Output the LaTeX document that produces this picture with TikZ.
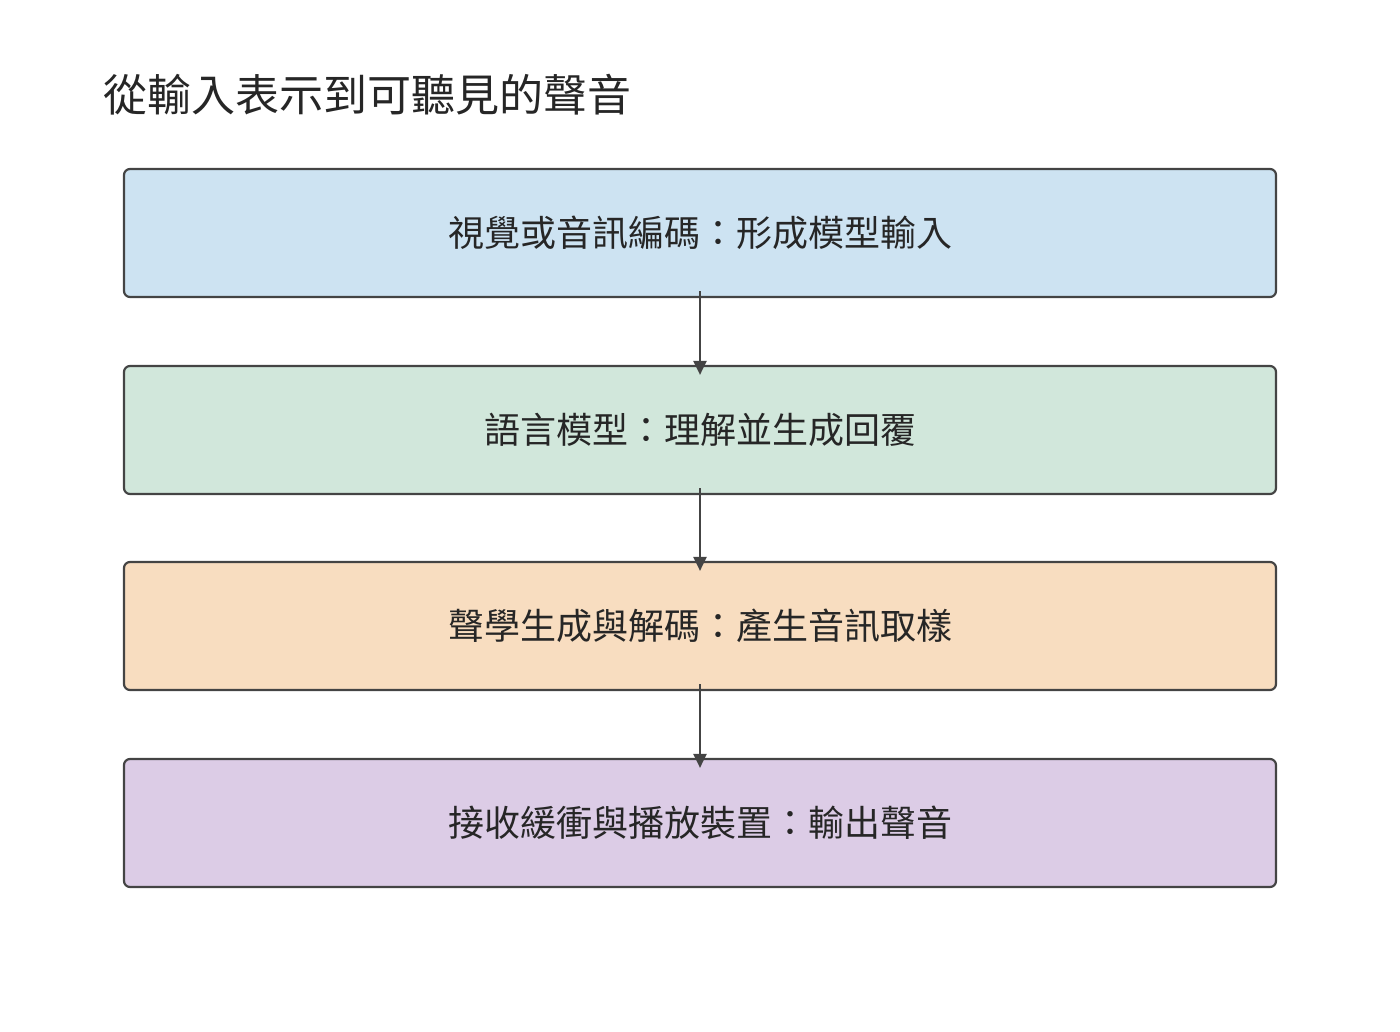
\documentclass[tikz,border=0pt]{standalone}
\usepackage{fontspec}
\setmainfont{Noto Sans CJK TC}
\usetikzlibrary{arrows.meta}
\definecolor{cb}{HTML}{CDE3F2}
\definecolor{cg}{HTML}{D1E7DB}
\definecolor{co}{HTML}{F8DDC0}
\definecolor{cp}{HTML}{DCCCE6}
\definecolor{ln}{HTML}{444444}
\begin{document}
\begin{tikzpicture}[x=1pt,y=-1pt,
 box/.style={draw=ln,line width=2.2pt,rounded corners=6pt,minimum width=1152pt,minimum height=128pt,font=\fontsize{36}{40}\selectfont,text=black!85},
 arr/.style={draw=ln,line width=2.2pt,-{Triangle[length=14pt,width=13pt]}}]
\useasboundingbox (0,0) rectangle (1400,1032);
\node[anchor=west,font=\fontsize{44}{48}\selectfont,text=black!85] (t) at (100,95) {從輸入表示到可聽見的聲音};
\node[box,fill=cb] (a) at (700,233) {視覺或音訊編碼：形成模型輸入};
\node[box,fill=cg] (b) at (700,430) {語言模型：理解並生成回覆};
\node[box,fill=co] (c) at (700,626) {聲學生成與解碼：產生音訊取樣};
\node[box,fill=cp] (d) at (700,823) {接收緩衝與播放裝置：輸出聲音};
\draw[arr] ([yshift=7pt]a.south) -- ([yshift=-10pt]b.north);
\draw[arr] ([yshift=7pt]b.south) -- ([yshift=-10pt]c.north);
\draw[arr] ([yshift=7pt]c.south) -- ([yshift=-10pt]d.north);
\end{tikzpicture}
\end{document}
